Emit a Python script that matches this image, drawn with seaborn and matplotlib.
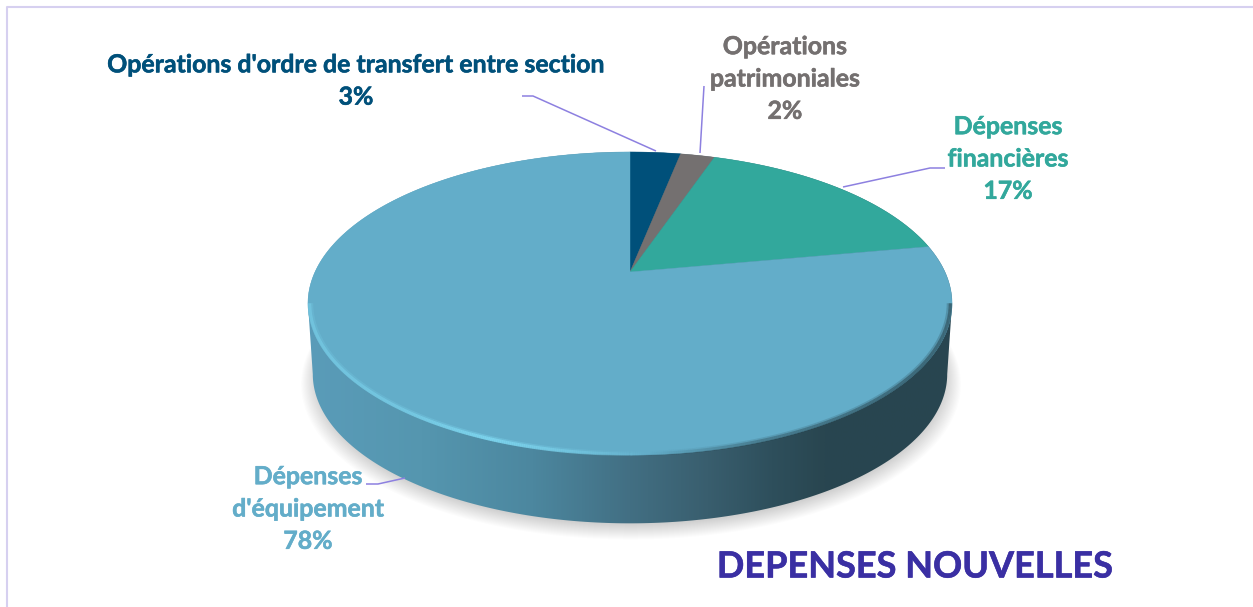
import numpy as np
import matplotlib
matplotlib.use("Agg")
import matplotlib.pyplot as plt
import matplotlib.patheffects as pe
from matplotlib.patches import Polygon
from matplotlib.collections import LineCollection
from matplotlib.colors import LinearSegmentedColormap
import seaborn as sns

# ---- data ----
categories = ["Opérations d'ordre de transfert entre section", "Opérations\npatrimoniales",
              "Dépenses\nfinancières", "Dépenses\nd'équipement"]
values = [3.1, 2.1, 16.9, 77.9]
colors = ["#00507A", "#747070", "#32A89C", "#63ADC9"]

sns.set_theme(style="white")
plt.rcParams['font.family'] = ['Lato', 'DejaVu Sans']

W, H = 1253, 607
fig = plt.figure(figsize=(W / 100, H / 100), dpi=100, facecolor="white")
ax = fig.add_axes([0, 0, 1, 1])
wedges, _ = ax.pie(values, colors=colors, startangle=90, counterclock=False)
angles = [(w.theta1, w.theta2) for w in wedges]
for w in wedges:
    w.remove()
ax.set_aspect("auto")
ax.set_xlim(0, W)
ax.set_ylim(H, 0)
ax.axis("off")

CX, CY, SX, A, B = 630.0, 272.0, 315.0, 145.0, 0.208
DEPTH, BS = 71.0, 0.985


def project(t, scale=1.0, dy=0.0):
    X, Y = np.cos(t), np.sin(t)
    d = 1 + B * Y
    return CX + scale * SX * X / d, CY + dy - scale * A * Y / d


# shadow
t0 = np.arcsin(-B)
tt = np.linspace(0, 2 * np.pi, 400)
for i in range(16):
    g = i / 15
    sx, sy = project(tt, BS * (1.04 - 0.05 * g), DEPTH + 9 - 6 * g)
    ax.add_patch(Polygon(np.c_[sx + 1, sy], closed=True, fc="#000000", ec="none", alpha=0.012, zorder=1))

# side wall with horizontal gradient
tx, ty = project(np.linspace(t0, np.pi - t0, 200))
bx, by = project(np.linspace(np.pi - t0, 2 * np.pi + t0, 200), BS, DEPTH)
clip = Polygon(np.r_[np.c_[tx, ty], np.c_[bx, by]], closed=True, fc="none", ec="none", transform=ax.transData)
ax.add_patch(clip)
wall = LinearSegmentedColormap.from_list("wall", [
    (0.00, "#5A9CB9"), (0.18, "#5596AF"), (0.35, "#4C879F"), (0.50, "#426F83"),
    (0.62, "#395E6E"), (0.72, "#2E4F5C"), (0.80, "#294650"), (1.00, "#284550")])
im = ax.imshow(np.linspace(0, 1, 512)[None, :], cmap=wall, aspect="auto",
               extent=(305, 955, 540, 150), zorder=2, interpolation="bilinear")
im.set_clip_path(clip)
ax.set_xlim(0, W)
ax.set_ylim(H, 0)

# top face: wedges from the pie's own angles
for (a1, a2), c in zip(angles, colors):
    t = np.radians(np.linspace(a1, a2, max(int(abs(a2 - a1)) * 3, 8)))
    x, y = project(t)
    ax.add_patch(Polygon(np.r_[[[CX, CY]], np.c_[x, y]], closed=True, fc=c, ec=c, lw=0.3, zorder=3))

# rim highlight on the near edge
rt = np.linspace(np.pi - t0, 2 * np.pi + t0, 500)
for sc, lw, al in [(0.991, 3.5, 0.35), (0.995, 2.5, 0.8)]:
    rim_x, rim_y = project(rt, sc)
    pts = np.c_[rim_x, rim_y].reshape(-1, 1, 2)
    segs = np.concatenate([pts[:-1], pts[1:]], axis=1)
    mx = (segs[:, 0, 0] + segs[:, 1, 0]) / 2
    hi = np.interp(mx, [308, 400, 490, 560, 650], [0.55, 0.6, 1.0, 0.6, 0.0])
    lo = np.interp(mx, [650, 760, 950], [0.0, 0.45, 0.75])
    rgba = np.zeros((len(mx), 4))
    rgba[:, :3] = np.where((hi > 0)[:, None], np.array([0.50, 0.85, 0.95]), np.array([0.16, 0.27, 0.31]))
    rgba[:, 3] = np.maximum(hi, lo) * al
    ax.add_collection(LineCollection(segs, colors=rgba, linewidths=lw, zorder=4))

# leader lines
leaders_x = [[522, 533, 656], [704, 700], [843, 930, 945], [366, 378, 405]]
leaders_y = [[96, 96, 151], [86, 153], [187, 168, 168], [484, 484, 478]]
for lx, ly in zip(leaders_x, leaders_y):
    ax.plot(lx, ly, color="#8D80E0", lw=1.1, zorder=5, solid_capstyle="butt")

# labels
label_xy = [(356, 81), (785, 79), (1008, 159), (308, 509)]
label_col = ["#00507A", "#747070", "#32A89C", "#63ADC9"]
for name, v, (lx, ly), c in zip(categories, values, label_xy, label_col):
    ax.text(lx, ly, f"{name}\n{v:.0f}%", ha="center", va="center", color=c, fontsize=17.9,
            fontweight="bold", linespacing=1.49, zorder=6,
            path_effects=[pe.withStroke(linewidth=0.4, foreground=c)])

ax.text(915, 567, "DEPENSES NOUVELLES", ha="center", va="center", color="#3A2FA3",
        fontsize=26, fontweight="bold", zorder=6,
        path_effects=[pe.withStroke(linewidth=0.4, foreground="#3A2FA3")])

# chart-area frame
ax.plot([6.5, 6.5, 1253], [H, 6.5, 6.5], color="#D6D0F0", lw=1.5, zorder=0)

fig.savefig("out.png", dpi=100, facecolor="white")
